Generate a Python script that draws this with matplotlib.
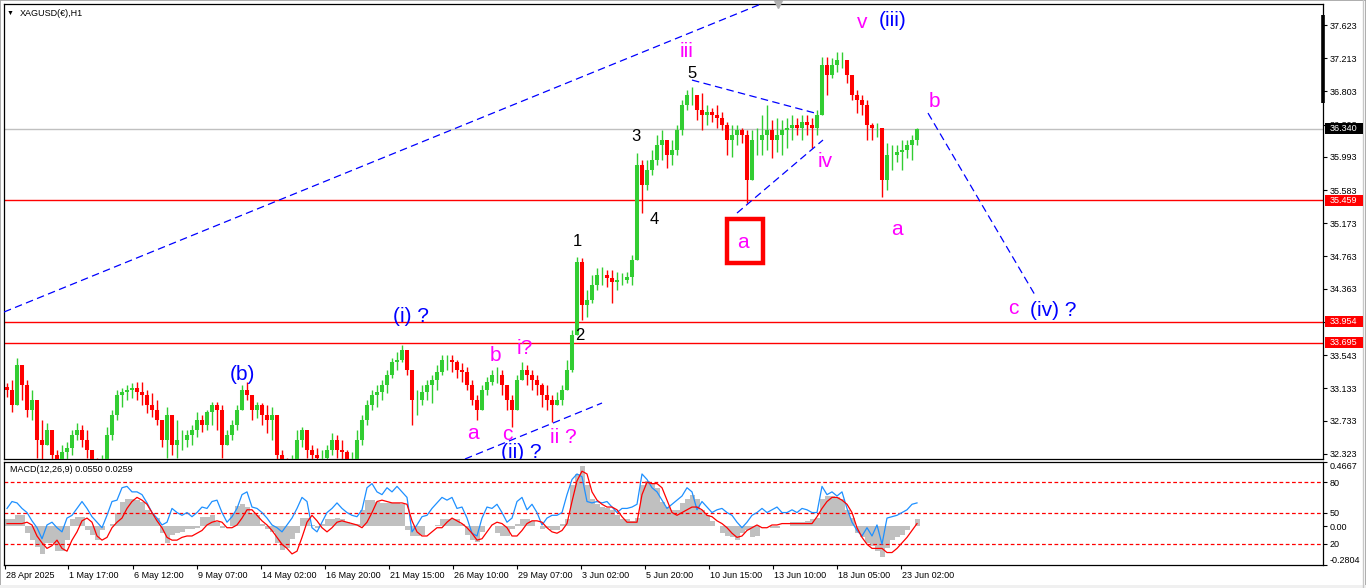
import matplotlib
matplotlib.use("Agg")
import matplotlib.pyplot as plt
import matplotlib.transforms as mtransforms
from matplotlib.patches import Rectangle
import numpy as np

plt.rcParams['font.family'] = ['Liberation Sans', 'DejaVu Sans']

# ---------------- data ----------------
symbol = "XAGUSD(€),H1"
macd_title = "MACD(12,26,9) 0.0550 0.0259"

first_open = 33.15
highs = [
    33.20, 33.24, 33.51, 33.36, 33.24, 33.11, 32.83, 32.74, 32.70, 32.62,
    32.37, 32.43, 32.47, 32.62, 32.70, 32.68, 32.62, 32.37, 32.27, 32.31,
    32.65, 32.86, 33.11, 33.14, 33.17, 33.20, 33.21, 33.21, 33.11, 33.07,
    32.99, 32.74, 32.90, 32.80, 32.74, 32.62, 32.62, 32.68, 32.84, 32.80,
    32.86, 32.96, 32.96, 32.93, 32.62, 32.74, 32.93, 33.17, 33.21, 33.05,
    32.96, 32.95, 32.93, 32.90, 32.74, 32.37, 32.27, 32.31, 32.62, 32.65,
    32.55, 32.43, 32.39, 32.37, 32.43, 32.58, 32.55, 32.49, 32.37, 32.35,
    32.62, 32.80, 32.99, 33.11, 33.17, 33.23, 33.36, 33.51, 33.58, 33.67,
    33.61, 33.36, 33.11, 33.17, 33.23, 33.30, 33.42, 33.54, 33.54, 33.54,
    33.48, 33.45, 33.39, 33.23, 33.05, 33.17, 33.27, 33.36, 33.39, 33.36,
    33.17, 33.05, 33.30, 33.46, 33.42, 33.36, 33.30, 33.20, 33.17, 33.05,
    33.09, 33.17, 33.48, 33.85, 34.75, 34.74, 34.35, 34.53, 34.62, 34.63,
    34.60, 34.60, 34.57, 34.56, 34.57, 34.78, 36.04, 35.95, 35.95, 36.08,
    36.26, 36.33, 36.20, 36.20, 36.39, 36.70, 36.82, 36.86, 36.76, 36.78,
    36.63, 36.60, 36.63, 36.55, 36.42, 36.39, 36.39, 36.35, 36.33, 36.33,
    36.35, 36.51, 36.63, 36.45, 36.47, 36.45, 36.47, 36.51, 36.47, 36.51,
    36.51, 36.47, 36.57, 37.23, 37.23, 37.22, 37.29, 37.29, 37.19, 36.97,
    36.82, 36.76, 36.70, 36.41, 36.41, 36.35, 36.16, 36.14, 36.14, 36.20,
    36.20, 36.26, 36.35]
lows = [
    33.02, 32.84, 33.11, 32.99, 32.78, 32.74, 32.27, 32.18, 32.49, 32.12,
    32.06, 32.12, 32.22, 32.31, 32.49, 32.41, 32.27, 32.12, 32.06, 32.10,
    32.27, 32.49, 32.74, 32.90, 32.99, 33.01, 32.99, 32.93, 32.83, 32.78,
    32.68, 32.41, 32.27, 32.31, 32.27, 32.37, 32.41, 32.43, 32.53, 32.59,
    32.62, 32.68, 32.62, 32.27, 32.46, 32.49, 32.62, 32.86, 32.99, 32.74,
    32.77, 32.68, 32.58, 32.49, 32.22, 32.06, 32.02, 32.10, 32.27, 32.41,
    32.27, 32.22, 32.15, 32.12, 32.18, 32.31, 32.27, 32.25, 32.12, 32.10,
    32.27, 32.43, 32.68, 32.86, 32.90, 32.99, 33.07, 33.26, 33.36, 33.46,
    33.30, 32.68, 32.80, 32.93, 32.99, 32.95, 33.11, 33.30, 33.36, 33.33,
    33.26, 33.21, 33.11, 32.93, 32.74, 32.86, 33.05, 33.17, 33.20, 33.05,
    32.86, 32.65, 32.99, 33.23, 33.17, 33.11, 33.05, 32.90, 32.86, 32.72,
    32.93, 32.93, 33.11, 33.33, 33.79, 33.98, 34.02, 34.19, 34.35, 34.41,
    34.38, 34.19, 34.35, 34.41, 34.43, 34.41, 34.72, 35.30, 35.58, 35.77,
    35.89, 35.95, 35.86, 35.89, 36.02, 36.26, 36.57, 36.63, 36.45, 36.33,
    36.39, 36.42, 36.35, 36.33, 36.02, 35.99, 36.14, 36.16, 35.42, 35.77,
    36.02, 36.02, 36.08, 35.98, 36.05, 36.02, 36.10, 36.20, 36.26, 36.20,
    36.26, 36.10, 36.26, 36.51, 36.76, 36.97, 37.04, 37.09, 36.91, 36.70,
    36.54, 36.51, 36.20, 36.20, 36.24, 35.50, 35.58, 35.83, 35.93, 35.83,
    35.98, 35.95, 36.14]
closes = [
    33.11, 32.93, 33.42, 33.17, 32.86, 32.99, 32.49, 32.43, 32.62, 32.31,
    32.18, 32.35, 32.39, 32.55, 32.62, 32.49, 32.37, 32.22, 32.15, 32.25,
    32.55, 32.80, 33.05, 33.09, 33.11, 33.14, 33.09, 33.05, 32.93, 32.86,
    32.74, 32.49, 32.80, 32.43, 32.49, 32.49, 32.55, 32.62, 32.74, 32.68,
    32.84, 32.93, 32.86, 32.43, 32.55, 32.68, 32.86, 33.11, 33.05, 32.86,
    32.93, 32.80, 32.74, 32.80, 32.31, 32.18, 32.12, 32.25, 32.49, 32.62,
    32.37, 32.31, 32.27, 32.27, 32.37, 32.49, 32.37, 32.35, 32.22, 32.25,
    32.49, 32.74, 32.93, 33.05, 33.09, 33.17, 33.30, 33.46, 33.48, 33.61,
    33.36, 32.99, 32.99, 33.09, 33.17, 33.23, 33.33, 33.48, 33.48, 33.46,
    33.36, 33.33, 33.17, 32.99, 32.86, 33.11, 33.21, 33.30, 33.30, 33.17,
    32.99, 32.86, 33.23, 33.36, 33.30, 33.23, 33.17, 33.05, 32.99, 32.93,
    32.99, 33.11, 33.36, 33.79, 34.69, 34.16, 34.22, 34.41, 34.53, 34.53,
    34.50, 34.45, 34.47, 34.47, 34.51, 34.72, 35.89, 35.65, 35.83, 35.95,
    36.14, 36.20, 36.02, 36.08, 36.33, 36.64, 36.76, 36.76, 36.57, 36.51,
    36.55, 36.51, 36.47, 36.39, 36.20, 36.26, 36.33, 36.26, 35.71, 36.20,
    36.20, 36.26, 36.33, 36.20, 36.26, 36.33, 36.35, 36.39, 36.35, 36.42,
    36.39, 36.35, 36.51, 37.13, 37.00, 37.13, 37.19, 37.19, 37.00, 36.76,
    36.70, 36.63, 36.39, 36.35, 36.35, 35.71, 36.02, 36.02, 36.05, 36.08,
    36.14, 36.20, 36.34]

macd_hist = [
    0.05, 0.05, 0.08, 0.08, -0.05, -0.10, -0.15, -0.20, -0.12, -0.12,
    -0.18, -0.18, -0.10, 0.05, 0.07, 0.07, -0.03, -0.06, -0.10, -0.03,
    0.00, 0.02, 0.10, 0.18, 0.20, 0.20, 0.19, 0.18, 0.12, 0.10,
    0.06, -0.05, -0.12, -0.06, -0.05, -0.04, -0.02, -0.02, -0.01, 0.07,
    0.07, 0.08, 0.03, -0.01, 0.00, 0.10, 0.15, 0.16, 0.14, 0.10,
    0.08, 0.02, -0.02, -0.04, -0.12, -0.17, -0.16, -0.09, -0.05, 0.06,
    0.06, 0.01, -0.01, 0.02, 0.05, 0.05, 0.06, 0.05, 0.03, 0.02,
    0.02, 0.12, 0.19, 0.19, 0.18, 0.17, 0.17, 0.17, 0.17, 0.16,
    -0.03, -0.07, -0.07, -0.06, 0.00, 0.00, 0.01, 0.05, 0.05, 0.05,
    0.05, 0.02, -0.06, -0.10, -0.11, -0.04, 0.00, 0.00, -0.05, -0.07,
    -0.07, -0.02, 0.02, 0.05, 0.05, 0.04, 0.00, -0.02, -0.01, -0.03,
    -0.03, 0.02, 0.05, 0.30, 0.38, 0.44, 0.30, 0.20, 0.16, 0.14,
    0.13, 0.12, 0.08, 0.05, 0.05, 0.04, 0.06, 0.30, 0.33, 0.31,
    0.28, 0.18, 0.14, 0.12, 0.12, 0.17, 0.20, 0.23, 0.20, 0.12,
    0.08, 0.04, 0.00, -0.05, -0.07, -0.08, -0.10, -0.05, -0.03, -0.08,
    -0.07, 0.00, 0.00, -0.01, -0.01, 0.00, 0.00, 0.03, 0.03, 0.03,
    0.04, 0.05, 0.06, 0.20, 0.22, 0.22, 0.21, 0.20, 0.12, 0.06,
    -0.05, -0.08, -0.12, -0.14, -0.18, -0.22, -0.16, -0.10, -0.08, -0.06,
    -0.03, 0.00, 0.05]
macd_signal = [
    0.02, 0.02, 0.02, 0.02, 0.03, 0.01, -0.07, -0.12, -0.16, -0.14,
    -0.10, -0.16, -0.18, -0.10, -0.04, 0.04, 0.06, 0.03, -0.07, -0.10,
    -0.08, -0.01, 0.03, 0.06, 0.13, 0.18, 0.21, 0.19, 0.16, 0.10,
    0.04, -0.01, -0.08, -0.10, -0.10, -0.08, -0.07, -0.07, -0.05, -0.03,
    0.01, 0.03, 0.04, 0.03, -0.01, -0.01, 0.01, 0.06, 0.12, 0.12,
    0.08, 0.04, 0.01, -0.03, -0.08, -0.13, -0.16, -0.20, -0.18, -0.08,
    0.03, 0.08, 0.04, -0.01, -0.04, -0.01, 0.03, 0.04, 0.03, 0.02,
    0.01, -0.01, 0.03, 0.10, 0.18, 0.19, 0.18, 0.17, 0.17, 0.17,
    0.16, 0.04, -0.04, -0.07, -0.07, -0.04, -0.01, -0.01, 0.03, 0.06,
    0.04, 0.02, -0.01, -0.05, -0.10, -0.09, -0.04, 0.01, 0.03, 0.02,
    -0.01, -0.07, -0.07, -0.03, 0.02, 0.04, 0.04, 0.03, -0.01, -0.04,
    -0.05, -0.03, 0.02, 0.18, 0.33, 0.40, 0.38, 0.25, 0.19, 0.16,
    0.14, 0.14, 0.12, 0.07, 0.03, 0.03, 0.03, 0.23, 0.32, 0.31,
    0.31, 0.28, 0.19, 0.10, 0.08, 0.10, 0.12, 0.14, 0.14, 0.12,
    0.08, 0.07, 0.04, 0.02, -0.01, -0.05, -0.08, -0.07, -0.03, -0.01,
    0.01, -0.01, -0.01, 0.01, 0.01, 0.02, 0.02, 0.02, 0.02, 0.02,
    0.02, 0.02, 0.07, 0.13, 0.18, 0.21, 0.21, 0.19, 0.16, 0.10,
    -0.01, -0.08, -0.13, -0.16, -0.16, -0.16, -0.19, -0.19, -0.16, -0.12,
    -0.08, -0.03, 0.02]
blue_line = [
    0.13, 0.18, 0.17, 0.13, 0.10, 0.04, -0.01, -0.09, 0.01, 0.03,
    -0.01, -0.04, 0.06, 0.08, 0.13, 0.18, 0.13, 0.07, 0.03, -0.01,
    0.08, 0.18, 0.19, 0.28, 0.29, 0.25, 0.25, 0.23, 0.17, 0.10,
    0.06, 0.01, 0.03, 0.13, 0.10, 0.08, 0.10, 0.07, 0.10, 0.14,
    0.13, 0.18, 0.19, 0.10, 0.03, 0.07, 0.13, 0.23, 0.25, 0.14,
    0.13, 0.10, 0.06, 0.01, -0.01, -0.04, 0.01, 0.06, 0.13, 0.21,
    0.18, -0.01, -0.04, 0.03, 0.10, 0.13, 0.17, 0.13, 0.10, 0.08,
    0.07, 0.12, 0.28, 0.31, 0.25, 0.23, 0.28, 0.25, 0.29, 0.25,
    0.21, -0.04, 0.01, 0.07, 0.08, 0.13, 0.17, 0.21, 0.19, 0.21,
    0.13, 0.14, 0.06, -0.05, -0.07, 0.06, 0.14, 0.13, 0.16, 0.10,
    0.03, 0.06, 0.18, 0.21, 0.12, 0.16, 0.10, 0.01, 0.06, 0.08,
    0.08, 0.10, 0.23, 0.34, 0.38, 0.36, 0.18, 0.17, 0.18, 0.17,
    0.18, 0.14, 0.10, 0.13, 0.13, 0.14, 0.16, 0.38, 0.34, 0.28,
    0.25, 0.19, 0.13, 0.16, 0.19, 0.22, 0.28, 0.25, 0.12, 0.18,
    0.14, 0.10, 0.12, 0.13, 0.10, 0.08, 0.03, -0.01, 0.03, 0.08,
    0.10, 0.13, 0.10, 0.12, 0.14, 0.10, 0.10, 0.12, 0.10, 0.13,
    0.12, 0.10, 0.10, 0.29, 0.23, 0.25, 0.22, 0.25, 0.13, 0.03,
    -0.03, -0.07, -0.01, -0.07, 0.01, -0.13, 0.06, 0.07, 0.08, 0.10,
    0.12, 0.16, 0.17]

price_ticks = [37.623, 37.213, 36.803, 36.393, 35.993, 35.583, 35.173,
               34.763, 34.363, 33.953, 33.543, 33.133, 32.733, 32.323]
red_levels = [35.459, 33.954, 33.695]
bid_price = 36.340

macd_levels = [0.320, 0.099, -0.128]
macd_level_names = ["80", "50", "20"]
macd_max, macd_min = 0.4667, -0.2804

date_labels = ["28 Apr 2025", "1 May 17:00", "6 May 12:00", "9 May 07:00",
               "14 May 02:00", "16 May 20:00", "21 May 15:00", "26 May 10:00",
               "29 May 07:00", "3 Jun 02:00", "5 Jun 20:00", "10 Jun 15:00",
               "13 Jun 10:00", "18 Jun 05:00", "23 Jun 02:00"]
date_bars = [5, 68, 133, 197, 261, 325, 389, 453, 517, 581, 645, 709, 773, 837, 901]

# wave labels: text, bar position, price, colour, size
wave_labels = [
    ("v", 862, 37.66, "#FF00FF", 15), ("(iii)", 893, 37.685, "#0000FF", 15),
    ("iii", 687, 37.29, "#FF00FF", 15), ("5", 692, 37.02, "black", 12),
    ("3", 636, 36.25, "black", 12), ("4", 654, 35.225, "black", 12),
    ("1", 577, 34.95, "black", 12), ("2", 580, 33.79, "black", 12),
    ("a", 743, 34.94, "#FF00FF", 15), ("iv", 825, 35.94, "#FF00FF", 15),
    ("b", 934, 36.68, "#FF00FF", 15), ("a", 897, 35.10, "#FF00FF", 15),
    ("c", 1013, 34.125, "#FF00FF", 15), ("(iv) ?", 1053, 34.09, "#0000FF", 15),
    ("(i) ?", 411, 34.02, "#0000FF", 15), ("(b)", 242, 33.30, "#0000FF", 15),
    ("b", 495, 33.54, "#FF00FF", 15), ("i?", 525, 33.63, "#FF00FF", 15),
    ("a", 473, 32.58, "#FF00FF", 15), ("c", 507, 32.568, "#FF00FF", 15),
    ("ii ?", 563, 32.53, "#FF00FF", 15), ("(ii) ?", 521, 32.345, "#0000FF", 15),
]
# trend lines (bar, price) pairs
trend_lines = [
    ((4, 34.076), (761, 37.883)),
    ((692, 36.943), (815, 36.535)),
    ((737, 35.299), (823, 36.202)),
    ((465, 32.259), (602, 32.951)),
    ((928, 36.535), (1035, 34.286)),
]

# ---------------- figure ----------------
W, H = 1366, 588
fig = plt.figure(figsize=(W / 100, H / 100), dpi=100)
fig.patch.set_facecolor("white")

def fx(px):
    return px / W

def fy(py):
    return 1 - py / H

ax = fig.add_axes([fx(4), fy(459), fx(1323) - fx(4), fy(4) - fy(459)])
ax2 = fig.add_axes([fx(4), fy(565), fx(1323) - fx(4), fy(462) - fy(565)])

y_top, y_bot = 37.883, 32.259
for a in (ax, ax2):
    a.set_xlim(4, 1323)
    for s in a.spines.values():
        s.set_color("black")
        s.set_linewidth(0.9)
ax.set_ylim(y_bot, y_top)
ax2.set_ylim(macd_min, macd_max)

n = len(closes)
xs = 7 + 5 * np.arange(n)
opens = np.array([first_open] + closes[:-1])
cl = np.array(closes)
hi = np.maximum(np.array(highs), np.maximum(opens, cl))
lo = np.minimum(np.array(lows), np.minimum(opens, cl))
cols = np.where(cl >= opens, "#32CD32", "#FF0000")

# reference lines
ax.axhline(bid_price, color="#c0c0c0", lw=1, zorder=1)
for lv in red_levels:
    ax.axhline(lv, color="#FF0000", lw=1, zorder=1)

ax.vlines(xs, lo, hi, colors=cols, lw=1.0, zorder=3)
ax.vlines(xs, np.minimum(opens, cl), np.maximum(opens, cl), colors=cols, lw=2.9, zorder=3)

for (x0, y0), (x1, y1) in trend_lines:
    ax.plot([x0, x1], [y0, y1], color="#0000FF", lw=0.9, ls=(0, (6, 3.5)), zorder=4)

for txt, x, y, c, s in wave_labels:
    ax.text(x, y, txt, color=c, fontsize=s, ha="center", va="center", zorder=5, clip_on=True)

# red box around key label
ax.add_patch(Rectangle((727, 34.68), 36, 0.545, fill=False, edgecolor="#FF0000", lw=3.2, zorder=5))

# title
fig.text(fx(20), fy(13), symbol, fontsize=6.5, ha="left", va="center")
fig.text(fx(10), fy(13), "\u25BC", fontsize=5, ha="center", va="center")
ax.plot([778], [y_top], marker="v", color="#b0b0b0", ms=6, clip_on=False, zorder=6)

# price axis
ax.yaxis.tick_right()
ax.set_yticks(price_ticks)
ax.set_yticklabels([f"{t:.3f}" for t in price_ticks])
ax.tick_params(axis="y", direction="out", length=3, width=0.8, pad=2, labelsize=6.5)
ax.set_xticks([])

# thick scale marker
ax.plot([1323, 1323], [37.747, 36.659], color="black", lw=2.6, clip_on=False, zorder=6, solid_capstyle="butt")

# price label boxes
bt = mtransforms.blended_transform_factory(fig.transFigure, ax.transData)
box_h = 11 / 80.9
for lv, fc in [(bid_price, "black")] + [(l, "#FF0000") for l in red_levels]:
    fig.add_artist(Rectangle((fx(1325), lv - box_h / 2), fx(38), box_h, transform=bt,
                             facecolor=fc, edgecolor="none", zorder=10))
    fig.text(fx(1330), lv, f"{lv:.3f}", transform=bt, color="white", fontsize=6.5,
             ha="left", va="center", zorder=11)

# MACD panel
ax2.bar(xs, macd_hist, width=5, color="#c0c0c0", linewidth=0, zorder=1)
for lv in macd_levels:
    ax2.axhline(lv, color="#FF0000", lw=0.9, ls=(0, (3, 2)), zorder=2)
ax2.plot(xs, blue_line, color="#1E90FF", lw=0.9, zorder=3)
ax2.plot(xs, macd_signal, color="#FF0000", lw=0.9, zorder=4)
fig.text(fx(10), fy(469), macd_title, fontsize=6.5, ha="left", va="center")

ax2.yaxis.tick_right()
m_ticks = [macd_max] + macd_levels[:2] + [0.0] + macd_levels[2:] + [macd_min]
m_labels = ["0.4667"] + macd_level_names[:2] + ["0.00"] + macd_level_names[2:] + ["-0.2804"]
ax2.set_yticks(m_ticks)
ax2.set_yticklabels(m_labels)
ax2.tick_params(axis="y", direction="out", length=3, width=0.8, pad=2, labelsize=6.5)
for lbl in ax2.get_yticklabels():
    if lbl.get_text() == "0.4667":
        lbl.set_va("top")
    elif lbl.get_text() == "-0.2804":
        lbl.set_va("bottom")

ax2.set_xticks(date_bars)
ax2.set_xticklabels([])
ax2.tick_params(axis="x", direction="out", length=3, width=0.8)
dt = mtransforms.blended_transform_factory(ax2.transData, fig.transFigure)
for lab, b in zip(date_labels, date_bars):
    fig.text(b + 1, fy(575), lab, transform=dt, fontsize=6.5, ha="left", va="center")

# window borders
fig.add_artist(Rectangle((0, 0), 1, 1, transform=fig.transFigure, fill=False,
                         edgecolor="#a0a0a0", lw=1.2))
fig.add_artist(Rectangle((0, 0), 1, fy(585), transform=fig.transFigure,
                         facecolor="#f0f0f0", edgecolor="none"))
fig.add_artist(plt.Line2D([fx(1363), fx(1363)], [0, 1], transform=fig.transFigure,
                          color="#c8c8c8", lw=1))

fig.savefig("out.png", dpi=100)
